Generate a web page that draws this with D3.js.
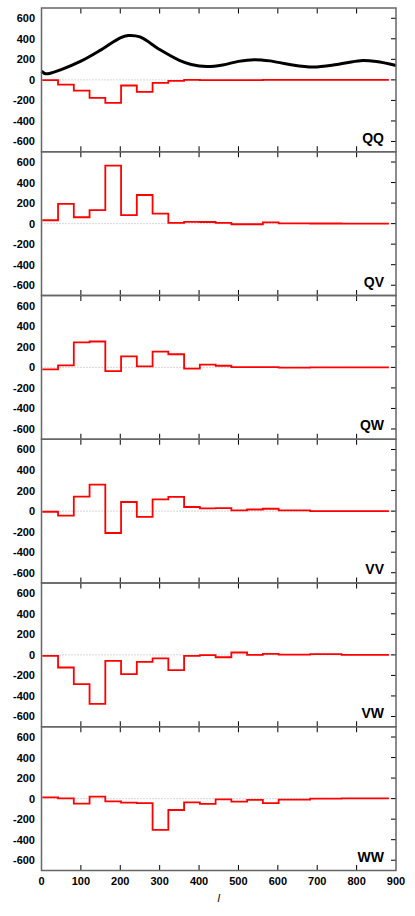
<!DOCTYPE html>
<html>
<head>
<meta charset="utf-8">
<script src="https://cdn.jsdelivr.net/npm/d3@7"></script>
<style>
body { margin: 0; background: #fff; }
text { font-family: "Liberation Sans", Arial, sans-serif; font-weight: bold; fill: #000; }
</style>
</head>
<body>
<svg id="chart"></svg>
<script>
var width = 415,
height = 916;

// bin edges in l
const edges = [2, 42, 82, 122, 162, 202, 242, 282, 322, 362, 402, 442, 482, 522, 562, 602, 682, 762, 882];

// binned spectra, one value per bin
const qq = [-3, -46, -104, -176, -224, -55, -117, -29, -10, 0, -3, -3, -2, -2, 0, 0, 0, 0];
const qv = [33, 193, 62, 131, 564, 82, 279, 98, 7, 18, 16, 7, -6, -6, 13, 3, 1, 0];
const qw = [-20, 20, 243, 252, -36, 108, 10, 154, 128, -13, 26, 16, 3, 3, 3, -3, 0, 0];
const vv = [-6, -43, 141, 259, -213, 89, -56, 115, 138, 40, 26, 30, 7, 16, 23, 7, 0, 0];
const vw = [-10, -123, -284, -477, -58, -187, -68, -35, -148, -10, -2, -23, 23, 0, 10, 3, 7, 0];
const ww = [13, 3, -49, 20, -26, -39, -43, -305, -111, -36, -52, -7, -30, -13, -43, -10, 0, 3];

const panelNames = ["QQ", "QV", "QW", "VV", "VW", "WW"];
const panelData = [qq, qv, qw, vv, vw, ww];

// theory curve in the top panel
const theoryL = [0, 8, 20, 50, 100, 150, 200, 220, 250, 300, 350, 380, 420, 460, 500, 540, 580, 630, 690, 750, 810, 850, 900];
const theoryC = [85, 62, 62, 100, 182, 290, 410, 432, 418, 295, 190, 150, 130, 145, 180, 197, 185, 150, 126, 150, 187, 178, 140];

const xTicks = [0, 100, 200, 300, 400, 500, 600, 700, 800, 900];
const yTicks = [-600, -400, -200, 0, 200, 400, 600];

const plotLeft = 41.5, plotRight = 396, plotTop = 8, plotBottom = 870.5;
const ph = (plotBottom - plotTop) / 6;

const svg = d3.select("#chart")
  .attr("width", width)
  .attr("height", height);

svg.append("rect").attr("width", width).attr("height", height).attr("fill", "#fff");

var x = d3.scaleLinear().domain([0, 900]).range([plotLeft, plotRight]);

panelData.forEach((vals, i) => {
  const y0 = plotTop + i * ph;
  var y = d3.scaleLinear().domain([-700, 700]).range([y0 + ph, y0]);
  const g = svg.append("g");

  // zero line
  g.append("line")
    .attr("x1", x(0)).attr("x2", x(900))
    .attr("y1", y(0)).attr("y2", y(0))
    .attr("stroke", "#999").attr("stroke-width", 0.8)
    .attr("stroke-dasharray", "1,2");

  // top panel has the theory curve
  if (i === 0) {
    var tline = d3.line()
      .x((d, k) => x(theoryL[k]))
      .y(d => y(d))
      .curve(d3.curveCatmullRom);
    g.append("path")
      .attr("d", tline(theoryC))
      .attr("fill", "none")
      .attr("stroke", "#000")
      .attr("stroke-width", 3);
  }

  // step line
  const pts = edges.map((e, k) => [e, k < vals.length ? vals[k] : vals[vals.length - 1]]);
  var step = d3.line()
    .x(d => x(d[0]))
    .y(d => y(d[1]))
    .curve(d3.curveStepAfter);
  g.append("path")
    .attr("d", step(pts))
    .attr("fill", "none")
    .attr("stroke", "#ff0000")
    .attr("stroke-width", 1.8);

  // x ticks top and bottom, inward
  xTicks.slice(1, -1).forEach(t => {
    g.append("line").attr("x1", x(t)).attr("x2", x(t))
      .attr("y1", y0).attr("y2", y0 + 5.5).attr("stroke", "#000").attr("stroke-width", 1);
    g.append("line").attr("x1", x(t)).attr("x2", x(t))
      .attr("y1", y0 + ph).attr("y2", y0 + ph - 5.5).attr("stroke", "#000").attr("stroke-width", 1);
  });

  // y ticks on the right, labels on the left
  yTicks.forEach(t => {
    g.append("line").attr("x1", plotRight).attr("x2", plotRight - 5)
      .attr("y1", y(t)).attr("y2", y(t)).attr("stroke", "#000").attr("stroke-width", 1);
    g.append("text")
      .attr("x", 35).attr("y", y(t))
      .attr("dy", "0.36em")
      .attr("text-anchor", "end")
      .style("font-size", "11px")
      .text(t);
  });

  // frame
  g.append("rect")
    .attr("x", plotLeft).attr("y", y0)
    .attr("width", plotRight - plotLeft).attr("height", ph)
    .attr("fill", "none")
    .attr("stroke", "#666").attr("stroke-width", 1.5);

  g.append("text")
    .attr("x", 384).attr("y", y0 + ph - 9)
    .attr("text-anchor", "end")
    .style("font-size", "14px")
    .text(panelNames[i]);
});

// bottom axis labels
xTicks.forEach(t => {
  svg.append("text")
    .attr("x", x(t)).attr("y", 885)
    .attr("text-anchor", "middle")
    .style("font-size", "11px")
    .text(t);
});

svg.append("text")
  .attr("x", x(450)).attr("y", 902)
  .attr("text-anchor", "middle")
  .style("font-size", "11px")
  .style("font-style", "italic")
  .style("font-weight", "normal")
  .text("l");
</script>
</body>
</html>
